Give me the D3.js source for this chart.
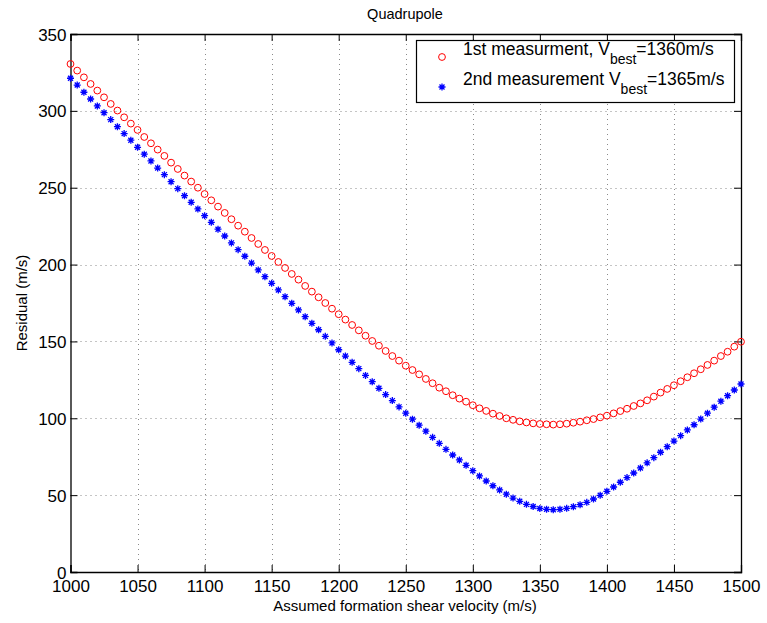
<!DOCTYPE html>
<html>
<head>
<meta charset="utf-8">
<script src="https://cdn.jsdelivr.net/npm/d3@7"></script>
<style>
body { margin: 0; background: #fff; }
text { font-family: "Liberation Sans", Arial, Helvetica, sans-serif; }
</style>
</head>
<body>
<svg id="chart" width="767" height="623"></svg>
<script>
// assumed shear velocity, 1000..1500 by 5 m/s
var velocity = [
 1000,1005,1010,1015,1020,1025,1030,1035,1040,1045,
 1050,1055,1060,1065,1070,1075,1080,1085,1090,1095,
 1100,1105,1110,1115,1120,1125,1130,1135,1140,1145,
 1150,1155,1160,1165,1170,1175,1180,1185,1190,1195,
 1200,1205,1210,1215,1220,1225,1230,1235,1240,1245,
 1250,1255,1260,1265,1270,1275,1280,1285,1290,1295,
 1300,1305,1310,1315,1320,1325,1330,1335,1340,1345,
 1350,1355,1360,1365,1370,1375,1380,1385,1390,1395,
 1400,1405,1410,1415,1420,1425,1430,1435,1440,1445,
 1450,1455,1460,1465,1470,1475,1480,1485,1490,1495,
 1500];

var residual1 = [
 330.5,326.2,321.8,317.5,313.2,308.8,304.5,300.2,295.8,291.7,
 287.6,283.0,278.9,274.8,270.7,266.3,262.2,257.9,254.0,250.0,
 245.9,241.8,237.7,233.6,229.5,225.3,221.4,217.3,213.4,209.5,
 205.6,201.7,197.8,193.9,190.2,186.1,182.4,178.7,175.0,171.3,
 167.7,164.2,160.7,157.2,153.7,150.3,147.2,143.8,140.5,137.5,
 134.2,131.4,128.6,125.6,122.8,119.9,117.6,115.0,112.8,110.8,
 108.5,106.5,104.8,103.0,101.5,100.0,99.0,98.0,97.3,96.7,
 96.3,96.1,95.9,96.1,96.5,97.1,97.8,98.7,99.5,100.6,
 101.7,103.2,104.7,106.2,108.0,109.7,111.7,114.1,116.7,119.1,
 121.5,124.1,126.7,129.3,131.9,134.7,137.5,140.5,143.3,146.6,
 149.8];

var residual2 = [
 321.2,316.8,312.1,307.7,303.2,298.8,294.3,289.7,285.2,280.9,
 276.3,271.8,267.4,262.8,258.5,253.9,249.4,244.8,240.5,236.2,
 231.8,227.5,223.0,218.6,214.1,209.7,205.4,201.0,196.5,192.1,
 187.8,183.5,179.1,174.8,170.5,166.1,161.8,157.6,153.3,149.0,
 144.6,140.5,136.4,132.3,127.9,123.8,119.5,115.4,111.5,107.4,
 103.3,99.4,95.5,91.6,87.6,83.7,79.8,76.1,72.9,69.4,
 65.9,62.5,59.2,56.1,53.4,50.6,48.1,46.0,44.0,42.6,
 41.3,40.8,40.5,40.8,41.4,42.5,43.8,45.3,47.5,49.9,
 52.5,55.3,58.4,61.4,64.4,67.7,71.0,74.4,77.9,81.5,
 85.2,88.7,92.4,95.8,99.5,103.3,107.2,111.1,114.7,118.4,
 122.3];

var xTicks = [1000,1050,1100,1150,1200,1250,1300,1350,1400,1450,1500];
var yTicks = [0,50,100,150,200,250,300,350];

var color1 = "#ff0000";
var color2 = "#0000ff";

var svg = d3.select("#chart");
var pLeft = 70.5, pTop = 34, pRight = 741, pBottom = 572;

var x = d3.scaleLinear().domain([1000, 1500]).range([pLeft, pRight]);
var y = d3.scaleLinear().domain([0, 350]).range([pBottom, pTop]);

// grid
var grid = svg.append("g").attr("stroke", "#8a8a8a").attr("stroke-width", 1)
  .attr("stroke-dasharray", "1,4").attr("fill", "none");
grid.selectAll(".gx").data(xTicks.slice(1, -1)).enter().append("line")
  .attr("x1", function(d) { return Math.round(x(d)) + 0.5; })
  .attr("x2", function(d) { return Math.round(x(d)) + 0.5; })
  .attr("y1", pTop).attr("y2", pBottom);
grid.selectAll(".gy").data(yTicks.slice(1, -1)).enter().append("line")
  .attr("y1", function(d) { return Math.round(y(d)) + 0.5; })
  .attr("y2", function(d) { return Math.round(y(d)) + 0.5; })
  .attr("x1", pLeft).attr("x2", pRight);

// axes
var fs = "17px";
var gx = svg.append("g").attr("transform", "translate(0," + pBottom + ")")
  .call(d3.axisBottom(x).tickValues(xTicks).tickSize(-7).tickPadding(8).tickFormat(d3.format("d")));
var gy = svg.append("g").attr("transform", "translate(" + pLeft + ",0)")
  .call(d3.axisLeft(y).tickValues(yTicks).tickSize(-7).tickPadding(4));
var gx2 = svg.append("g").attr("transform", "translate(0," + pTop + ")")
  .call(d3.axisTop(x).tickValues(xTicks).tickSize(-7).tickFormat(""));
var gy2 = svg.append("g").attr("transform", "translate(" + pRight + ",0)")
  .call(d3.axisRight(y).tickValues(yTicks).tickSize(-7).tickFormat(""));
[gx, gy, gx2, gy2].forEach(function(g) {
  g.select(".domain").attr("stroke", "#000").attr("stroke-width", 1.3);
  g.selectAll(".tick line").attr("stroke", "#000").attr("stroke-width", 1);
  g.selectAll(".tick text").attr("fill", "#000").style("font-size", fs)
   .style("font-family", "'Liberation Sans', Arial, sans-serif");
});
gy.selectAll(".tick text").attr("dy", "0.36em");

// title and labels
svg.append("text").attr("x", 405).attr("y", 19).attr("text-anchor", "middle")
  .style("font-size", "14.5px").text("Quadrupole");
svg.append("text").attr("x", 405).attr("y", 611).attr("text-anchor", "middle")
  .style("font-size", "15px").text("Assumed formation shear velocity (m/s)");
svg.append("text").attr("transform", "translate(27," + 303 + ") rotate(-90)")
  .attr("text-anchor", "middle").style("font-size", "15px").text("Residual (m/s)");

// series 1: circles
var pts = svg.append("g");
pts.selectAll(".c1").data(velocity).enter().append("circle")
  .attr("cx", function(d) { return x(d); })
  .attr("cy", function(d, i) { return y(residual1[i]); })
  .attr("r", 3.4).attr("fill", "none").attr("stroke", color1).attr("stroke-width", 1);

// series 2: asterisks
var star = "M-3.5,0H3.5M0,-3.5V3.5M-2.5,-2.5L2.5,2.5M-2.5,2.5L2.5,-2.5";
pts.selectAll(".s2").data(velocity).enter().append("path")
  .attr("transform", function(d, i) { return "translate(" + x(d) + "," + y(residual2[i]) + ")"; })
  .attr("d", star).attr("fill", "none").attr("stroke", color2).attr("stroke-width", 1.3);

// legend
var lg = svg.append("g");
lg.append("rect").attr("x", 416.5).attr("y", 40.5).attr("width", 318).attr("height", 62)
  .attr("fill", "#fff").attr("stroke", "#000").attr("stroke-width", 1.2);
lg.append("circle").attr("cx", 442).attr("cy", 57).attr("r", 3.4)
  .attr("fill", "none").attr("stroke", color1);
lg.append("path").attr("transform", "translate(442,87)").attr("d", star)
  .attr("fill", "none").attr("stroke", color2).attr("stroke-width", 1.3);
var labels = [["1st measurment, V", "best", "=1360m/s"], ["2nd measurement V", "best", "=1365m/s"]];
labels.forEach(function(l, i) {
  var t = lg.append("text").attr("x", 463).attr("y", 55 + i * 30).style("font-size", "17.5px");
  t.append("tspan").text(l[0]);
  t.append("tspan").attr("dy", 9).style("font-size", "14px").text(l[1]);
  t.append("tspan").attr("dy", -9).text(l[2]);
});
</script>
</body>
</html>
